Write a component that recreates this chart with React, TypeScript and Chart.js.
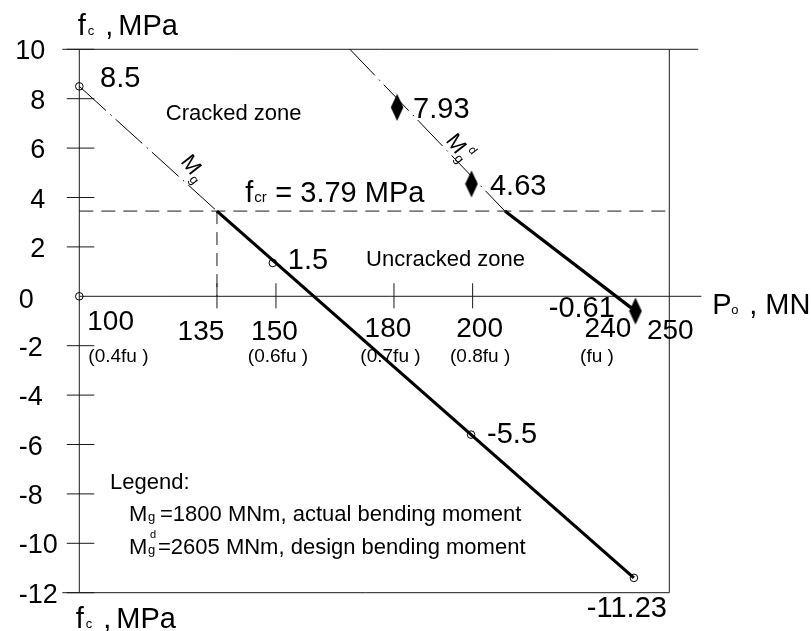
import React, { useEffect, useRef } from 'react';
import { Chart, registerables } from 'chart.js';

Chart.register(...registerables);

// ---------- data ----------
const X_MIN = 100;
const X_MAX = 250;
const Y_MIN = -12;
const Y_MAX = 10;

const yTickValues = [10, 8, 6, 4, 2, 0, -2, -4, -6, -8, -10, -12];
const xTickMarks = [135, 150, 180, 200];
const xTickLabelValues = [100, 135, 150, 180, 200, 240, 250];
const xTickLabels = ['100', '135', '150', '180', '200', '240', '250'];
const xSubLabelValues = [100, 150, 180, 200, 240];
const xSubLabels = ['(0.4fu )', '(0.6fu )', '(0.7fu )', '(0.8fu )', '(fu )'];

const fcrLevel = 3.45;
const fcrText = '= 3.79 MPa';
const crackStartX = 135;

// Mg (actual bending moment) line
const mgDashX = [100, 135];
const mgDashY = [8.5, 3.45];
const mgSolidX = [135, 241];
const mgSolidY = [3.45, -11.4];
const mgPointX = [100, 149.2, 199.6, 241, 100];
const mgPointY = [8.5, 1.35, -5.6, -11.4, 0];
const mgPointLabels = ['8.5', '1.5', '-5.5', '-11.23', ''];

// Mg^d (design bending moment) line
const mgdDashX = [168.8, 208.2];
const mgdDashY = [10, 3.45];
const mgdSolidX = [208.2, 241.4];
const mgdSolidY = [3.45, -0.6];
const mgdPointX = [180.8, 199.7, 241.4];
const mgdPointY = [7.65, 4.55, -0.6];
const mgdPointLabels = ['7.93', '4.63', '-0.61'];

const legendTitle = 'Legend:';
const legendLine1 = '=1800 MNm, actual bending moment';
const legendLine2 = '=2605 MNm, design bending moment';
const zoneCracked = 'Cracked zone';
const zoneUncracked = 'Uncracked zone';

// ---------- styles / placement ----------
const FONT = '"Liberation Sans", Arial, Helvetica, sans-serif';
const INK = '#000';
const AXIS = '#1a1a1a';
const DASH_DOT = [36, 6, 1.5, 5.5];

// [dx, dy(baseline), align]
const mgLabelOffsets: [number, number, CanvasTextAlign][] = [
  [20.7, 0.7, 'left'],
  [15, 6, 'left'],
  [16, 8, 'left'],
  [33, 39, 'right'],
  [0, 0, 'left'],
];
const mgdLabelOffsets: [number, number, CanvasTextAlign][] = [
  [16, 10.5, 'left'],
  [18.5, 11, 'left'],
  [-20.6, 6, 'right'],
];
const xTickLabelStyle: [number, number, CanvasTextAlign][] = [
  [8, 33.7, 'left'],
  [-16, 43.7, 'center'],
  [-1.5, 43.7, 'center'],
  [-6, 41, 'center'],
  [7, 41, 'center'],
  [-22, 41, 'center'],
  [1, 42.7, 'center'],
];
const xSubLabelStyle: [number, number, CanvasTextAlign][] = [
  [9, 65.5, 'left'],
  [2, 65.5, 'center'],
  [-3.5, 65.5, 'center'],
  [7.5, 65.5, 'center'],
  [-33, 65.5, 'center'],
];

const pts = (xs: number[], ys: number[]) => xs.map((x, i) => ({ x, y: ys[i] }));

function makeDiamond(): HTMLCanvasElement {
  const c = document.createElement('canvas');
  c.width = 14;
  c.height = 28;
  const g = c.getContext('2d')!;
  g.fillStyle = INK;
  g.beginPath();
  g.moveTo(7, 0.5);
  g.lineTo(13.3, 14);
  g.lineTo(7, 27.5);
  g.lineTo(0.7, 14);
  g.closePath();
  g.fill();
  return c;
}

function line(ctx: CanvasRenderingContext2D, x1: number, y1: number, x2: number, y2: number) {
  ctx.beginPath();
  ctx.moveTo(x1, y1);
  ctx.lineTo(x2, y2);
  ctx.stroke();
}

function drawMLabel(ctx: CanvasRenderingContext2D, cx: number, cy: number, deg: number, size: number, sup: boolean) {
  ctx.save();
  ctx.translate(cx, cy);
  ctx.rotate((deg * Math.PI) / 180);
  ctx.fillStyle = INK;
  ctx.textAlign = 'left';
  ctx.textBaseline = 'alphabetic';
  ctx.font = `${size}px ${FONT}`;
  const mw = ctx.measureText('M').width;
  ctx.fillText('M', -mw / 2, size * 0.36);
  ctx.font = `${Math.round(size * 0.6)}px ${FONT}`;
  ctx.fillText('g', mw / 2 + 1, size * 0.36 + size * 0.18);
  if (sup) {
    ctx.font = `${Math.round(size * 0.55)}px ${FONT}`;
    ctx.fillText('d', mw / 2 + 3, -size * 0.2);
  }
  ctx.restore();
}

const axesPlugin = {
  id: 'customAxes',
  beforeDatasetsDraw(chart: any) {
    const ctx: CanvasRenderingContext2D = chart.ctx;
    const xs = chart.scales.x;
    const ys = chart.scales.y;
    const L = xs.getPixelForValue(X_MIN);
    const R = xs.getPixelForValue(X_MAX);
    const T = ys.getPixelForValue(Y_MAX);
    const B = ys.getPixelForValue(Y_MIN);
    const Z = ys.getPixelForValue(0);
    ctx.save();
    ctx.strokeStyle = AXIS;
    ctx.lineWidth = 1;
    line(ctx, L - 17, T, R + 29, T); // top
    line(ctx, L, T, L, B); // left axis
    line(ctx, R, T, R, B); // right border
    line(ctx, L - 17, B, R, B); // bottom
    line(ctx, L, Z, R + 32, Z); // x axis
    yTickValues.forEach((v) => {
      if (v === 0) return;
      const y = ys.getPixelForValue(v);
      line(ctx, L - 12.5, y, L + 15, y);
    });
    xTickMarks.forEach((v) => {
      const x = xs.getPixelForValue(v);
      line(ctx, x, Z - 13, x, Z + 12);
    });
    // fcr dashed lines
    const yc = ys.getPixelForValue(fcrLevel);
    ctx.setLineDash([14, 8]);
    line(ctx, L, yc, R, yc);
    const xc = xs.getPixelForValue(crackStartX);
    ctx.setLineDash([13, 8]);
    line(ctx, xc, yc, xc, Z);
    ctx.restore();
  },
  afterDraw(chart: any) {
    const ctx: CanvasRenderingContext2D = chart.ctx;
    const xs = chart.scales.x;
    const ys = chart.scales.y;
    const L = xs.getPixelForValue(X_MIN);
    const R = xs.getPixelForValue(X_MAX);
    const B = ys.getPixelForValue(Y_MIN);
    const Z = ys.getPixelForValue(0);
    ctx.save();
    ctx.fillStyle = INK;
    ctx.textBaseline = 'alphabetic';

    // y tick labels
    ctx.font = `27px ${FONT}`;
    yTickValues.forEach((v) => {
      const y = ys.getPixelForValue(v) + 10;
      if (v > 0) {
        ctx.textAlign = 'right';
        ctx.fillText(String(v), L - 34, y);
      } else {
        ctx.textAlign = 'left';
        ctx.fillText(String(v), L - 60.5, y + (v === 0 ? 1.5 : 0));
      }
    });

    // x tick labels
    ctx.font = `28px ${FONT}`;
    xTickLabels.forEach((t, i) => {
      const [dx, dy, al] = xTickLabelStyle[i];
      ctx.textAlign = al;
      ctx.fillText(t, xs.getPixelForValue(xTickLabelValues[i]) + dx, Z + dy);
    });
    ctx.font = `19px ${FONT}`;
    xSubLabels.forEach((t, i) => {
      const [dx, dy, al] = xSubLabelStyle[i];
      ctx.textAlign = al;
      ctx.fillText(t, xs.getPixelForValue(xSubLabelValues[i]) + dx, Z + dy);
    });

    // point value labels
    ctx.font = `29px ${FONT}`;
    mgPointLabels.forEach((t, i) => {
      if (!t) return;
      const [dx, dy, al] = mgLabelOffsets[i];
      ctx.textAlign = al;
      ctx.fillText(t, xs.getPixelForValue(mgPointX[i]) + dx, ys.getPixelForValue(mgPointY[i]) + dy);
    });
    mgdPointLabels.forEach((t, i) => {
      const [dx, dy, al] = mgdLabelOffsets[i];
      ctx.textAlign = al;
      ctx.fillText(t, xs.getPixelForValue(mgdPointX[i]) + dx, ys.getPixelForValue(mgdPointY[i]) + dy);
    });

    // fcr label
    const yc = ys.getPixelForValue(fcrLevel);
    const fx = xs.getPixelForValue(142.2);
    ctx.textAlign = 'left';
    ctx.font = `29px ${FONT}`;
    ctx.fillText('f', fx, yc - 9);
    ctx.font = `15px ${FONT}`;
    ctx.fillText('cr', fx + 9, yc - 9);
    ctx.font = `29px ${FONT}`;
    ctx.fillText(fcrText, fx + 30, yc - 9);

    // zone labels
    ctx.font = `22px ${FONT}`;
    ctx.fillText(zoneCracked, xs.getPixelForValue(122), ys.getPixelForValue(7.14));
    ctx.fillText(zoneUncracked, xs.getPixelForValue(172.9), ys.getPixelForValue(1.23));

    // axis titles
    const drawFc = (x: number, y: number) => {
      ctx.textAlign = 'left';
      ctx.font = `29px ${FONT}`;
      ctx.fillText('f', x, y);
      ctx.font = `13px ${FONT}`;
      ctx.fillText('c', x + 10, y);
      ctx.font = `29px ${FONT}`;
      ctx.fillText(',', x + 27.5, y);
      ctx.fillText('MPa', x + 40.5, y);
    };
    drawFc(L - 1.5, 35);
    drawFc(L - 3.5, B + 35.5);
    ctx.font = `29px ${FONT}`;
    ctx.fillText('P', R + 43, Z + 18);
    ctx.font = `13px ${FONT}`;
    ctx.fillText('o', R + 62, Z + 18);
    ctx.font = `29px ${FONT}`;
    ctx.fillText(',', R + 80, Z + 18);
    ctx.fillText('MN', R + 96, Z + 18);

    // rotated line names
    drawMLabel(ctx, xs.getPixelForValue(128.6), ys.getPixelForValue(5.35), 52, 22, false);
    drawMLabel(ctx, xs.getPixelForValue(196.0), ys.getPixelForValue(6.2), 52, 22, true);

    // legend
    ctx.textAlign = 'left';
    ctx.font = `22px ${FONT}`;
    ctx.fillText(legendTitle, L + 30.7, 489);
    ctx.fillText('M', L + 49.7, 521);
    ctx.font = `13px ${FONT}`;
    ctx.fillText('g', L + 68.7, 521);
    ctx.font = `22px ${FONT}`;
    ctx.fillText(legendLine1, L + 80.7, 521);
    ctx.fillText('M', L + 49.7, 554);
    ctx.font = `13px ${FONT}`;
    ctx.fillText('g', L + 68.7, 554);
    ctx.font = `11px ${FONT}`;
    ctx.fillText('d', L + 70.7, 538);
    ctx.font = `22px ${FONT}`;
    ctx.fillText(legendLine2, L + 78.7, 554);

    ctx.restore();
  },
};

export default function App() {
  const ref = useRef<HTMLCanvasElement>(null);
  useEffect(() => {
    if (!ref.current) return;
    const diamond = makeDiamond();
    const base = { clip: false as any, pointRadius: 0, borderColor: INK, showLine: true };
    const chart = new Chart(ref.current, {
      type: 'scatter',
      data: {
        datasets: [
          { ...base, data: pts(mgDashX, mgDashY), borderWidth: 1, borderDash: DASH_DOT },
          { ...base, data: pts(mgSolidX, mgSolidY), borderWidth: 3.2 },
          { ...base, data: pts(mgdDashX, mgdDashY), borderWidth: 1, borderDash: DASH_DOT },
          { ...base, data: pts(mgdSolidX, mgdSolidY), borderWidth: 3.2 },
          {
            clip: false as any,
            showLine: false,
            data: pts(mgPointX, mgPointY),
            pointStyle: 'circle',
            pointRadius: 3.8,
            pointBorderWidth: 1,
            pointBorderColor: INK,
            pointBackgroundColor: 'rgba(255,255,255,0)',
          },
          {
            clip: false as any,
            showLine: false,
            data: pts(mgdPointX, mgdPointY),
            pointStyle: diamond as any,
            pointRadius: 10,
          },
        ] as any,
      },
      options: {
        responsive: false,
        animation: false,
        events: [],
        layout: { padding: { left: 79.3, top: 49.3, right: 141.7, bottom: 38.3 } },
        scales: {
          x: { type: 'linear', min: X_MIN, max: X_MAX, display: false },
          y: { type: 'linear', min: Y_MIN, max: Y_MAX, display: false },
        },
        plugins: { legend: { display: false }, tooltip: { enabled: false } },
      },
      plugins: [axesPlugin],
    });
    return () => chart.destroy();
  }, []);
  return (
    <div style={{ position: 'fixed', left: 0, top: 0, width: 811, height: 631, background: '#fff' }}>
      <canvas ref={ref} width={811} height={631} style={{ display: 'block' }} />
    </div>
  );
}
